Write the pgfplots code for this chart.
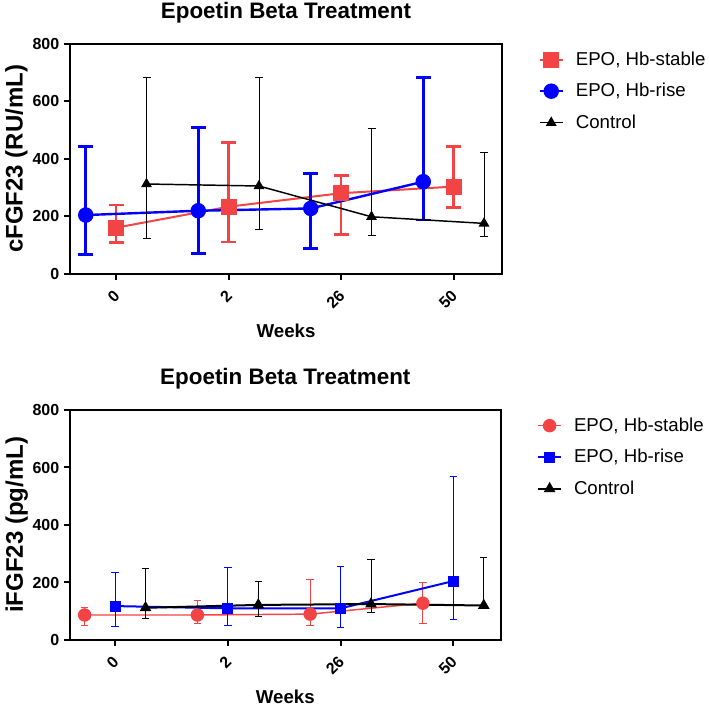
\documentclass[border=0pt]{standalone}
\usepackage{pgfplots}
\pgfplotsset{compat=1.18}
\usepackage{fontspec}
\setmainfont{Liberation Sans}
\definecolor{myred}{RGB}{242,68,68}
\definecolor{myblue}{RGB}{0,0,255}

\pgfplotsset{
 fgfstyle/.style={
  scale only axis, height=172.5pt,
  ymin=0, ymax=800,
  xtick={0,1,2,3}, xticklabels={0,2,26,50},
  ytick={0,200,400,600,800},
  axis line style={line width=1.5pt},
  every tick/.style={line width=1.5pt, black},
  tick align=outside, major tick length=4.5pt,
  xtick pos=bottom, ytick pos=left,
  /pgf/number format/assume math mode=true,
  ticklabel style={font=\bfseries\fontsize{12}{14}\selectfont},
  x tick label style={xshift=3pt, yshift=-7.5pt, rotate=45, anchor=east},
  title style={font=\bfseries\fontsize{16.8}{19}\selectfont, at={(axis description cs:0.5,1.077)}, anchor=base},
  xlabel style={font=\bfseries\fontsize{14}{16}\selectfont, at={(axis description cs:0.5,-0.274)}, anchor=base},
  ylabel style={font=\bfseries\fontsize{18}{21}\selectfont, at={(axis description cs:-0.124,0.5)}, anchor=center},
  legend style={draw=none, fill=none, font=\fontsize{14}{16}\selectfont,
     at={(axis description cs:1.075,0.99)}, anchor=north west, row sep=8pt,
     /tikz/every odd column/.append style={column sep=7pt}},
  legend cell align=left,
  clip=false,
 }
}

\pgfplotstableread{
x y ep em
0 161 79 51
1 234 223 123
2 281 62 143
3 304 139 73
}\topred
\pgfplotstableread{
x y ep em
-0.27 205 238 137
0.73 220 290 148
1.73 228 121 139
2.73 321 363 133
}\topblue
\pgfplotstableread{
x y ep em
0.27 313 372 188
1.27 306 376 151
2.27 199 306 66
3.27 176 247 45
}\topblack
\pgfplotstableread{
x y ep em
-0.27 87 27 37
0.73 87 50 29
1.73 90 121 40
2.73 128 73 70
}\botred
\pgfplotstableread{
x y ep em
0 118 116 72
1 110 142 59
2 110 144 66
3 205 364 132
}\botblue
\pgfplotstableread{
x y ep em
0.27 112 135 37
1.27 122 80 41
2.27 125 156 29
3.27 120 166 10
}\botblack

\begin{document}
\begin{tikzpicture}
\useasboundingbox (0,0) rectangle (531.75pt,528.75pt);
\begin{axis}[fgfstyle, at={(52.5pt,323.25pt)}, anchor=south west,
  width=324pt, xmin=-0.41, xmax=3.43,
  title={Epoetin Beta Treatment}, xlabel={Weeks}, ylabel={cFGF23 (RU/mL)}]
\addplot[myred, line width=1.5pt, mark=square*, mark size=5.2pt,
  error bars/.cd, y dir=both, y explicit,
  error bar style={line width=2pt, myred},
  error mark options={rotate=90, mark size=5.6pt, line width=2pt, myred}]
  table[x=x, y=y, y error plus=ep, y error minus=em] {\topred};
\addlegendentry{EPO, Hb-stable}
\addplot[myblue, line width=1.8pt, mark=*, mark size=4.9pt,
  error bars/.cd, y dir=both, y explicit,
  error bar style={line width=2pt, myblue},
  error mark options={rotate=90, mark size=5.6pt, line width=2pt, myblue}]
  table[x=x, y=y, y error plus=ep, y error minus=em] {\topblue};
\addlegendentry{EPO, Hb-rise}
\addplot[black, line width=1.1pt, mark=triangle*, mark size=3.6pt,
  error bars/.cd, y dir=both, y explicit,
  error bar style={line width=0.75pt, black},
  error mark options={rotate=90, mark size=3pt, line width=0.75pt, black}]
  table[x=x, y=y, y error plus=ep, y error minus=em] {\topblack};
\addlegendentry{Control}
\end{axis}

\begin{axis}[fgfstyle, at={(52.5pt,48.75pt)}, anchor=south west,
  width=323pt, xmin=-0.40, xmax=3.42,
  title={Epoetin Beta Treatment}, xlabel={Weeks}, ylabel={iFGF23 (pg/mL)}]
\addplot[myred, line width=1.1pt, mark=*, mark size=4.5pt,
  error bars/.cd, y dir=both, y explicit,
  error bar style={line width=0.75pt, myred},
  error mark options={rotate=90, mark size=2.8pt, line width=0.75pt, myred}]
  table[x=x, y=y, y error plus=ep, y error minus=em] {\botred};
\addlegendentry{EPO, Hb-stable}
\addplot[myblue, line width=1.5pt, mark=square*, mark size=3.4pt,
  error bars/.cd, y dir=both, y explicit,
  error bar style={line width=0.75pt, myblue},
  error mark options={rotate=90, mark size=2.8pt, line width=0.75pt, myblue}]
  table[x=x, y=y, y error plus=ep, y error minus=em] {\botblue};
\addlegendentry{EPO, Hb-rise}
\addplot[black, line width=1.5pt, mark=triangle*, mark size=3.6pt,
  error bars/.cd, y dir=both, y explicit,
  error bar style={line width=0.75pt, black},
  error mark options={rotate=90, mark size=2.8pt, line width=0.75pt, black}]
  table[x=x, y=y, y error plus=ep, y error minus=em] {\botblack};
\addlegendentry{Control}
\end{axis}
\end{tikzpicture}
\end{document}
